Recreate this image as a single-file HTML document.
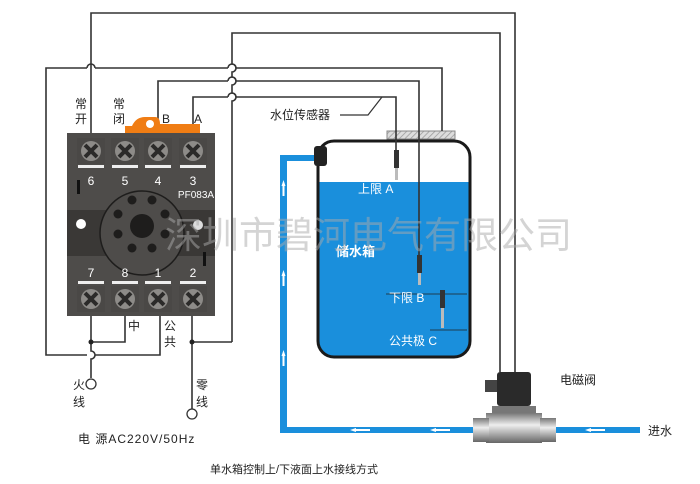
<!DOCTYPE html>
<html><head><meta charset="utf-8"><style>
html,body{margin:0;padding:0;background:#fff;width:700px;height:484px;overflow:hidden}
svg{display:block}
text{font-family:"Liberation Sans","Noto Sans CJK SC",sans-serif}
</style></head><body>
<svg width="700" height="484" viewBox="0 0 700 484" xmlns="http://www.w3.org/2000/svg">
<defs>
<pattern id="hatch" width="4" height="4" patternUnits="userSpaceOnUse" patternTransform="rotate(45)">
<rect width="4" height="4" fill="#ddd"/><line x1="0" y1="0" x2="0" y2="4" stroke="#999" stroke-width="1.5"/></pattern>
<linearGradient id="metal" x1="0" y1="0" x2="0" y2="1"><stop offset="0" stop-color="#777"/><stop offset="0.4" stop-color="#eee"/><stop offset="1" stop-color="#666"/></linearGradient>
<g id="scr"><rect x="-14" y="-13" width="28" height="26" fill="#4a4846"/><circle r="10" fill="#8d8b88"/><path d="M-6,-6L6,6M6,-6L-6,6" stroke="#2b2a29" stroke-width="4"/></g>
</defs>

<g fill="#1a8fdc">
<rect x="280" y="155" width="7" height="278"/>
<rect x="280" y="155" width="36" height="6"/>
<rect x="280" y="427" width="360" height="6"/>
</g>
<g fill="#fff">
<path d="M283.5,180l-2,6h4z M283.5,270l-2,6h4z M283.5,350l-2,6h4z"/>
<rect x="282.5" y="186" width="2" height="10"/><rect x="282.5" y="276" width="2" height="10"/><rect x="282.5" y="356" width="2" height="10"/>
<path d="M350,430l6,-2v4z M430,430l6,-2v4z M585,430l6,-2v4z"/>
<rect x="356" y="429" width="14" height="2"/><rect x="436" y="429" width="14" height="2"/><rect x="591" y="429" width="14" height="2"/>
</g>

<path d="M318,182 H470 V337 Q470,357 450,357 H338 Q318,357 318,337 Z" fill="#1a8fdc"/>
<rect x="318" y="141" width="152" height="216" rx="16" fill="none" stroke="#1a1a1a" stroke-width="3"/>
<rect x="314" y="146" width="13" height="20" rx="3" fill="#222"/>
<rect x="387" y="131" width="68" height="8" fill="url(#hatch)" stroke="#888"/>
<line x1="386" y1="294" x2="467" y2="294" stroke="#222" stroke-width="0.8"/>
<line x1="430" y1="330" x2="467" y2="330" stroke="#222" stroke-width="0.8"/>

<g fill="none" stroke="#333" stroke-width="1.6">
<path d="M91,138 V13 H515 V372"/>
<path d="M232,342 V101 a4,4 0 0 0 0,-8 V85 a4,4 0 0 0 0,-8 V72 a4,4 0 0 0 0,-8 V33 H500 V372"/>
<path d="M442,131 V68 H236 M228,68 H95 M87,68 H46 V355 H87 M95,355 H160 V312"/>
<path d="M158,133 V81 H228 M236,81 H419 V255"/>
<path d="M193,138 V97 H228 M236,97 H396 V165"/>
<path d="M91,312 V351 a4,4 0 0 1 0,8 V378"/>
<path d="M91,342 H125 V312"/>
<path d="M192,312 V412"/>
<path d="M192,342 H232"/>
<path d="M87,68 a4,4 0 0 1 8,0 M228,68 a4,4 0 0 1 8,0 M228,81 a4,4 0 0 1 8,0 M228,97 a4,4 0 0 1 8,0"/>
<path d="M340,115 H368 L382,97" stroke-width="1.2"/>
</g>
<circle cx="91" cy="342" r="2.5" fill="#222"/><circle cx="192" cy="342" r="2.5" fill="#222"/>
<circle cx="91" cy="384" r="5" fill="#fff" stroke="#333" stroke-width="1.3"/>
<circle cx="192" cy="414" r="5" fill="#fff" stroke="#333" stroke-width="1.3"/>
<g><rect x="394" y="150" width="5" height="18" fill="#333"/><rect x="395" y="168" width="3" height="12" fill="#bbb"/>
<rect x="417" y="255" width="5" height="18" fill="#333"/><rect x="418" y="273" width="3" height="12" fill="#bbb"/>
<rect x="440" y="290" width="5" height="18" fill="#333"/><rect x="441" y="308" width="3" height="20" fill="#bbb"/></g>

<path d="M125,133 V126 H132 Q136,117 145,117 H155 Q160,117 160,124 H200 V133 Z" fill="#f07d14"/>
<circle cx="150" cy="124" r="4" fill="#fff"/>
<rect x="67" y="133" width="148" height="183" fill="#4e4c4a"/>
<rect x="67" y="210" width="148" height="46" fill="#3a3836"/>
<circle cx="142" cy="233" r="42" fill="#4e4c4a" stroke="#1e1d1c" stroke-width="1.5"/>
<g fill="#1e1d1c"><circle cx="132" cy="200" r="4.5"/><circle cx="152" cy="200" r="4.5"/><circle cx="165" cy="214" r="4.5"/><circle cx="165" cy="234" r="4.5"/><circle cx="152" cy="248" r="4.5"/><circle cx="132" cy="248" r="4.5"/><circle cx="118" cy="234" r="4.5"/><circle cx="118" cy="214" r="4.5"/><circle cx="142" cy="226" r="12"/></g>
<circle cx="81" cy="224" r="5" fill="#fff"/><circle cx="198" cy="225" r="5" fill="#ddd"/>
<rect x="77" y="180" width="3" height="14" fill="#111"/><rect x="203" y="252" width="3" height="14" fill="#111"/>
<g>
<use href="#scr" x="91" y="151"/><use href="#scr" x="125" y="151"/><use href="#scr" x="158" y="151"/><use href="#scr" x="193" y="151"/>
<use href="#scr" x="91" y="299"/><use href="#scr" x="125" y="299"/><use href="#scr" x="158" y="299"/><use href="#scr" x="193" y="299"/>
</g>
<g fill="#eee"><rect x="78" y="165" width="26" height="3"/><rect x="112" y="165" width="26" height="3"/><rect x="145" y="165" width="26" height="3"/><rect x="180" y="165" width="26" height="3"/>
<rect x="78" y="281" width="26" height="3"/><rect x="112" y="281" width="26" height="3"/><rect x="145" y="281" width="26" height="3"/><rect x="180" y="281" width="26" height="3"/></g>
<g fill="#fff" font-size="12" text-anchor="middle">
<text x="91" y="185">6</text><text x="125" y="185">5</text><text x="158" y="185">4</text><text x="193" y="185">3</text>
<text x="91" y="277">7</text><text x="125" y="277">8</text><text x="158" y="277">1</text><text x="193" y="277">2</text>
<text x="196" y="198" font-size="10">PF083A</text></g>

<rect x="485" y="380" width="14" height="12" fill="#444"/>
<rect x="497" y="372" width="34" height="34" rx="3" fill="#2a2a2a"/>
<rect x="492" y="406" width="44" height="8" fill="#777"/>
<rect x="486" y="413" width="56" height="30" fill="url(#metal)"/>
<rect x="473" y="418" width="16" height="24" fill="url(#metal)"/>
<rect x="540" y="418" width="16" height="24" fill="url(#metal)"/>

<g font-size="12" fill="#222">
<text x="75" y="108">常</text><text x="75" y="123">开</text>
<text x="113" y="108">常</text><text x="113" y="123">闭</text>
<text x="162" y="123">B</text><text x="194" y="123">A</text>
<text x="128" y="330">中</text>
<text x="164" y="330">公</text><text x="164" y="346">共</text>
<text x="73" y="389">火</text><text x="73" y="406">线</text>
<text x="196" y="389">零</text><text x="196" y="406">线</text>
<text x="78" y="443" letter-spacing="1">电 源AC220V/50Hz</text>
<text x="270" y="119">水位传感器</text>
<text x="560" y="384">电磁阀</text>
<text x="648" y="435">进水</text>
<text x="210" y="473" font-size="11">单水箱控制上/下液面上水接线方式</text>
</g>
<g font-size="12" fill="#fff">
<text x="358" y="193">上限 A</text>
<text x="336" y="256" font-weight="bold" font-size="13">储水箱</text>
<text x="389" y="302">下限 B</text>
<text x="389" y="345">公共极 C</text>
</g>

<text x="165" y="248" font-size="37" fill="#aaa" fill-opacity="0.5">深圳市碧河电气有限公司</text>
</svg>
</body></html>
